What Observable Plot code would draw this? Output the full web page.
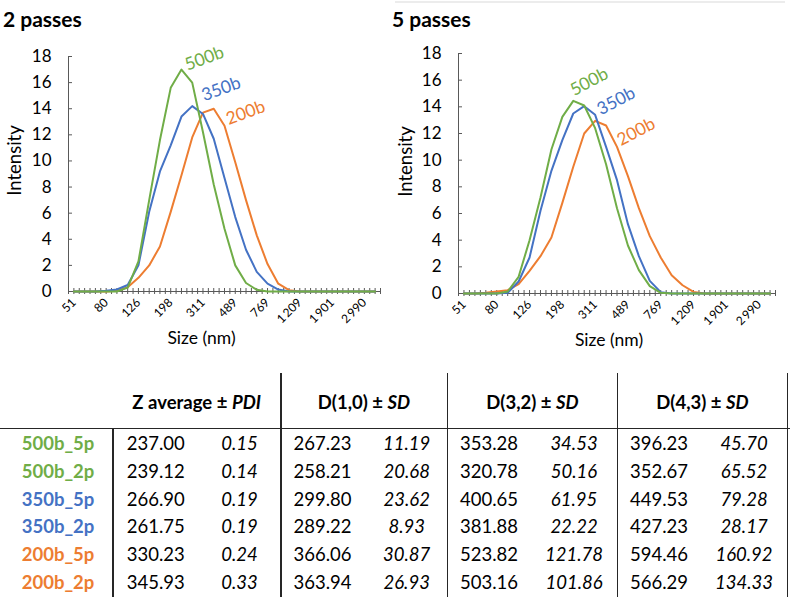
<!DOCTYPE html>
<html>
<head>
<meta charset="utf-8">
<script src="https://cdn.jsdelivr.net/npm/d3@7"></script>
<script src="https://cdn.jsdelivr.net/npm/@observablehq/plot@0.6"></script>
<style>
  body { margin: 0; background: #fff; font-family: Lato, "Open Sans", sans-serif; }
  #page { position: relative; width: 790px; height: 597px; overflow: hidden; background: #fff; }
  .title { position: absolute; font-weight: bold; font-size: 21px; line-height: 1; color: #000; }
  .chart { position: absolute; top: 30px; }
  .cell { position: absolute; transform: translate(-50%, -50%); white-space: nowrap; font-size: 18.5px; line-height: 1; color: #000; }
  .head { font-weight: bold; }
  .rule { position: absolute; background: #262626; }
</style>
</head>
<body>
<div id="page"></div>
<script>
// Size classes of the DLS distribution (nm)
const sizeBins = [51, 59, 69, 80, 93, 108, 126, 146, 170, 198, 230, 268, 311, 362, 420,
  489, 569, 661, 769, 894, 1040, 1209, 1406, 1635, 1901, 2210, 2570, 2990, 3476];

// Intensity distributions (%) after 2 passes
const p2_200b = [0, 0, 0, 0, 0.05, 0.33, 1.05, 2.0, 3.45, 6.1, 8.9, 11.8, 13.7, 14.0, 12.7,
  9.9, 7.0, 4.3, 2.1, 0.6, 0.1, 0, 0, 0, 0, 0, 0, 0, 0];
const p2_350b = [0, 0, 0, 0.05, 0.15, 0.5, 2.0, 6.1, 9.2, 11.2, 13.4, 14.2, 13.6, 11.7, 8.7,
  5.7, 3.2, 1.5, 0.6, 0.15, 0, 0, 0, 0, 0, 0, 0, 0, 0];
const p2_500b = [0, 0, 0, 0, 0, 0.3, 2.3, 7.0, 11.6, 15.6, 17.0, 16.0, 12.2, 8.2, 4.8,
  2.0, 0.65, 0.13, 0, 0, 0, 0, 0, 0, 0, 0, 0, 0, 0];

// Intensity distributions (%) after 5 passes
const p5_200b = [0, 0, 0.05, 0.15, 0.25, 0.7, 1.7, 2.8, 4.2, 6.8, 9.5, 12.0, 12.95, 12.6, 11.0,
  8.8, 6.4, 4.3, 2.7, 1.37, 0.62, 0.12, 0, 0, 0, 0, 0, 0, 0];
const p5_350b = [0, 0, 0, 0, 0.05, 0.9, 2.7, 6.2, 9.2, 11.5, 13.5, 14.05, 13.4, 11.0, 8.5,
  5.2, 2.8, 0.95, 0.1, 0, 0, 0, 0, 0, 0, 0, 0, 0, 0];
const p5_500b = [0, 0, 0, 0, 0.15, 1.25, 4.0, 7.2, 10.8, 13.25, 14.45, 14.1, 12.4, 9.7, 6.4,
  3.6, 1.75, 0.55, 0.05, 0, 0, 0, 0, 0, 0, 0, 0, 0, 0];

const seriesNames = ["200b", "350b", "500b"];
const seriesColors = ["#ED7D31", "#4472C4", "#70AD47"];
const yTicks = [0, 2, 4, 6, 8, 10, 12, 14, 16, 18];

// Summary table
const samples = ["500b_5p", "500b_2p", "350b_5p", "350b_2p", "200b_5p", "200b_2p"];
const zAverage = [237.00, 239.12, 266.90, 261.75, 330.23, 345.93];
const pdi = [0.15, 0.14, 0.19, 0.19, 0.24, 0.33];
const d10 = [267.23, 258.21, 299.80, 289.22, 366.06, 363.94];
const d10sd = [11.19, 20.68, 23.62, 8.93, 30.87, 26.93];
const d32 = [353.28, 320.78, 400.65, 381.88, 523.82, 503.16];
const d32sd = [34.53, 50.16, 61.95, 22.22, 121.78, 101.86];
const d43 = [396.23, 352.67, 449.53, 427.23, 594.46, 566.29];
const d43sd = [45.70, 65.52, 79.28, 28.17, 160.92, 134.33];

const page = document.getElementById("page");
const axisColor = "#595959";

const groupThousands = v => String(v).replace(/\B(?=(\d{3})+(?!\d))/g, "\u2009");

function distributionChart(valueSets, opts) {
  const rows = [];
  valueSets.forEach((vals, s) => vals.forEach((v, i) => rows.push({bin: i, intensity: v, name: seriesNames[s]})));
  const peaks = valueSets.map((vals, s) => {
    const i = d3.maxIndex(vals);
    return {bin: i, intensity: vals[i], name: seriesNames[s], dx: opts.labelOffsets[s][0], dy: opts.labelOffsets[s][1]};
  });
  const labelBins = sizeBins.map((d, i) => i).filter(i => i % 3 === 0);
  // tick marks at category edges and category centres
  const tickBins = d3.range(2 * sizeBins.length + 1).map(k => k / 2 - 0.5);
  return Plot.plot({
    width: 395,
    height: 320,
    marginLeft: opts.left,
    marginRight: opts.right,
    marginTop: opts.top,
    marginBottom: opts.bottom,
    style: {fontFamily: "Lato, 'Open Sans', sans-serif", color: "#000", background: "transparent", overflow: "visible"},
    x: {type: "linear", domain: [-0.5, sizeBins.length - 0.5]},
    y: {domain: [0, 18]},
    color: {domain: seriesNames, range: seriesColors},
    marks: [
      Plot.ruleX([-0.5], {stroke: axisColor, strokeWidth: 1}),
      Plot.ruleY(yTicks, {x1: -0.5, x2: -0.5, insetLeft: 0, insetRight: -4, stroke: axisColor}),
      Plot.axisY({ticks: yTicks, tickSize: 0, tickPadding: 17, fontSize: 17, label: null}),
      Plot.axisX({ticks: labelBins, tickFormat: i => groupThousands(sizeBins[i]), tickRotate: -45,
        tickSize: 0, tickPadding: 9, fontSize: 12, label: null}),
      Plot.ruleY([0], {stroke: axisColor, strokeWidth: 1}),
      Plot.ruleX(tickBins, {y1: 0, y2: 0, insetTop: -3, insetBottom: -3, stroke: axisColor}),
      ...seriesNames.map(n => Plot.line(rows.filter(r => r.name === n),
        {x: "bin", y: "intensity", stroke: "name", strokeWidth: 2, strokeLinejoin: "round"})),
      ...peaks.map(p => Plot.text([p], {x: "bin", y: "intensity", text: "name", fill: "name",
        dx: p.dx, dy: p.dy, rotate: opts.labelRotate, fontSize: 17.5})),
      Plot.text(["Size (nm)"], {frameAnchor: "bottom", dx: opts.xLabelShift, dy: opts.xLabelOffset, fontSize: 17.5}),
      Plot.text(["Intensity"], {frameAnchor: "top-left", textAnchor: "middle", lineAnchor: "middle",
        rotate: -90, dx: opts.yLabelOffset, dy: opts.yLabelCenter, fontSize: 18.5})
    ]
  });
}

function place(el, left) {
  el.classList.add("chart");
  el.style.left = left + "px";
  page.appendChild(el);
}

place(distributionChart([p2_200b, p2_350b, p2_500b], {
  left: 68, right: 15, top: 26, bottom: 59,
  labelRotate: -20, labelOffsets: [[32, 4], [29, -17], [23, -11]],
  xLabelShift: -23, xLabelOffset: 52, yLabelOffset: -53, yLabelCenter: 104
}), 0);

place(distributionChart([p5_200b, p5_350b, p5_500b], {
  left: 63, right: 15, top: 23, bottom: 57,
  labelRotate: -28, labelOffsets: [[41, 11], [32, -5], [16, -19]],
  xLabelShift: -8, xLabelOffset: 52, yLabelOffset: -52, yLabelCenter: 108
}), 395);

function addDiv(cls, html, style) {
  const d = document.createElement("div");
  d.className = cls;
  d.innerHTML = html;
  Object.assign(d.style, style);
  page.appendChild(d);
  return d;
}

addDiv("title", "2 passes", {left: "3px", top: "8px"});
addDiv("title", "5 passes", {left: "392px", top: "8px"});
addDiv("rule", "", {left: "395px", top: "1px", width: "390px", height: "2px", background: "#ececec"});

// Table rules
addDiv("rule", "", {left: "0px", top: "427.5px", width: "790px", height: "1.6px"});
[281, 447.3, 617.7, 787.5].forEach(x => addDiv("rule", "", {left: (x - 0.75) + "px", top: "373px", width: "1.5px", height: "224px"}));
addDiv("rule", "", {left: "112.3px", top: "428px", width: "1.5px", height: "169px"});

// Table header
const headY = 401.7;
[["Z average \u00b1 <i>PDI</i>", 196.7], ["D(1,0) \u00b1 <i>SD</i>", 364],
 ["D(3,2) \u00b1 <i>SD</i>", 532.5], ["D(4,3) \u00b1 <i>SD</i>", 702.5]].forEach(([h, x]) =>
  addDiv("cell head", h, {left: x + "px", top: headY + "px"}));

// Table body
const colorOf = name => seriesColors[seriesNames.indexOf(name.split("_")[0])];
const columns = [[zAverage, 155.8, false], [pdi, 239.5, true], [d10, 322.5, false], [d10sd, 406.7, true],
  [d32, 489, false], [d32sd, 574, true], [d43, 659, false], [d43sd, 744, true]];
samples.forEach((s, r) => {
  const y = 443.3 + r * 27.7;
  addDiv("cell head", s, {left: "58px", top: y + "px", color: colorOf(s)});
  columns.forEach(([vals, x, italic]) =>
    addDiv("cell", vals[r].toFixed(2), {left: x + "px", top: y + "px", fontStyle: italic ? "italic" : "normal"}));
});
</script>
</body>
</html>
